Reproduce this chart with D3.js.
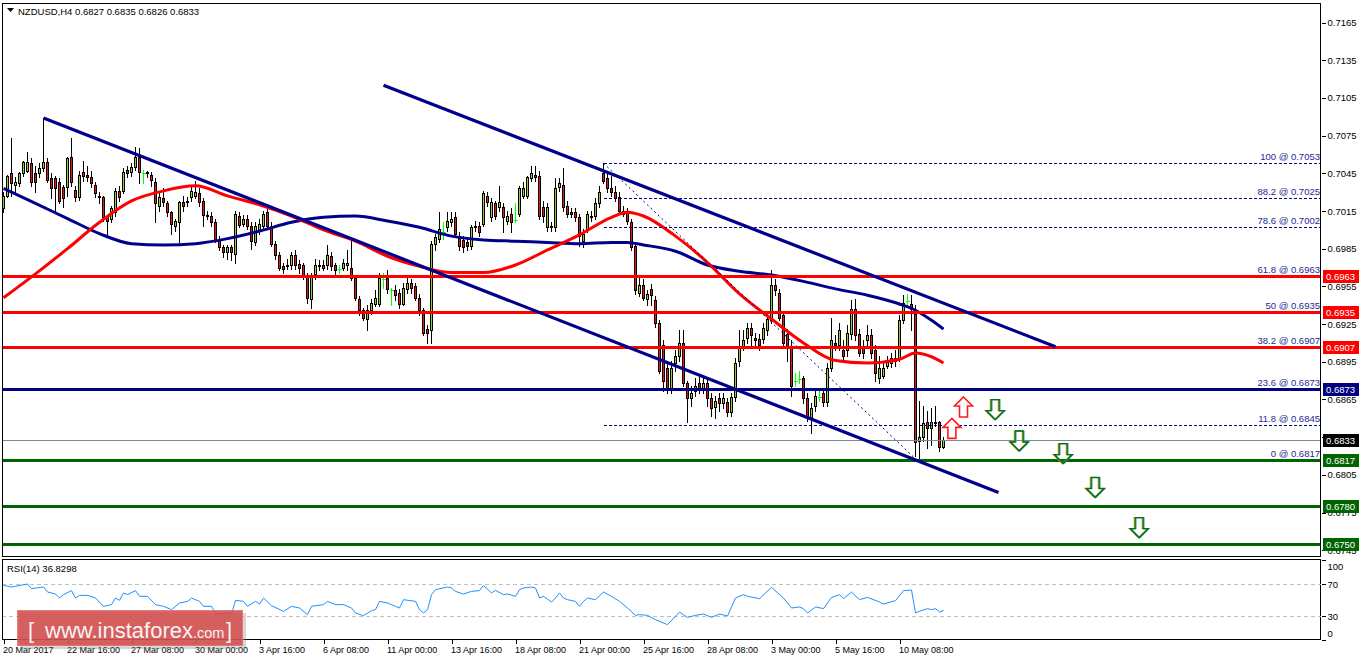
<!DOCTYPE html>
<html><head><meta charset="utf-8">
<script src="https://cdn.jsdelivr.net/npm/d3@7"></script>
<style>
html,body{margin:0;padding:0;background:#fff;}
svg{display:block;font-family:"Liberation Sans",Arial,sans-serif;}
</style></head><body>
<svg id="c" width="1362" height="661"></svg>
<script>
// ---------------- DATA ----------------
const symbol = "NZDUSD,H4";
const opens = [0.7017,0.7027,0.7045,0.7036,0.7037,0.7045,0.7047,0.7053,0.7045,0.7045,
0.7049,0.7054,0.7041,0.7041,0.7038,0.7034,0.7034,0.7058,0.7032,0.7026,
0.7046,0.7044,0.7042,0.7036,0.7027,0.7026,0.7010,0.7009,0.7014,0.7031,
0.7031,0.7048,0.7046,0.7050,0.7058,0.7045,0.7045,0.7044,0.7038,0.7019,
0.7025,0.7021,0.7014,0.7003,0.7006,0.7022,0.7022,0.7026,0.7027,0.7029,
0.7023,0.7012,0.7011,0.7006,0.6993,0.6986,0.6982,0.6986,0.6981,0.7011,
0.7005,0.7009,0.7003,0.6990,0.6999,0.7003,0.7014,0.7003,0.6989,0.6980,
0.6971,0.6971,0.6972,0.6980,0.6973,0.6972,0.6964,0.6945,0.6965,0.6971,
0.6972,0.6972,0.6979,0.6972,0.6969,0.6970,0.6972,0.6970,0.6962,0.6945,
0.6936,0.6929,0.6936,0.6941,0.6941,0.6961,0.6962,0.6952,0.6952,0.6950,
0.6941,0.6953,0.6958,0.6955,0.6946,0.6936,0.6921,0.6920,0.6989,0.6993,
0.6998,0.7002,0.7006,0.7010,0.6995,0.6992,0.6990,0.6987,0.7002,0.7003,
0.7005,0.7027,0.7010,0.7021,0.7018,0.7018,0.7007,0.7013,0.7008,0.7013,
0.7027,0.7027,0.7041,0.7044,0.7043,0.7018,0.7002,0.7003,0.7002,0.7034,
0.7036,0.7019,0.7014,0.7014,0.7010,0.6991,0.7001,0.7010,0.7011,0.7021,
0.7045,0.7041,0.7033,0.7030,0.7026,0.7013,0.7014,0.7006,0.6987,0.6950,
0.6956,0.6945,0.6953,0.6944,0.6926,0.6908,0.6890,0.6874,0.6894,0.6900,
0.6910,0.6878,0.6866,0.6872,0.6878,0.6874,0.6878,0.6866,0.6859,0.6866,
0.6862,0.6863,0.6855,0.6867,0.6896,0.6906,0.6914,0.6922,0.6914,0.6913,
0.6913,0.6920,0.6928,0.6956,0.6950,0.6932,0.6917,0.6906,0.6880,0.6881,
0.6882,0.6866,0.6851,0.6860,0.6867,0.6870,0.6863,0.6890,0.6910,0.6908,
0.6904,0.6904,0.6917,0.6937,0.6917,0.6906,0.6912,0.6916,0.6904,0.6882,
0.6884,0.6892,0.6894,0.6896,0.6898,0.6928,0.6943,0.6941,0.6933,0.6832,
0.6835,0.6847,0.6842,0.6847,0.6847,0.6827];
const highs = [0.7030,0.7044,0.7073,0.7042,0.7046,0.7055,0.7062,0.7057,0.7051,0.7053,
0.7089,0.7057,0.7045,0.7043,0.7041,0.7036,0.7058,0.7073,0.7035,0.7047,
0.7055,0.7051,0.7047,0.7038,0.7030,0.7027,0.7012,0.7019,0.7033,0.7035,
0.7049,0.7051,0.7053,0.7066,0.7065,0.7048,0.7047,0.7046,0.7041,0.7029,
0.7033,0.7023,0.7015,0.7009,0.7023,0.7027,0.7026,0.7035,0.7039,0.7033,
0.7025,0.7015,0.7014,0.7009,0.6995,0.6988,0.6988,0.6988,0.7015,0.7014,
0.7012,0.7012,0.7006,0.7006,0.7009,0.7015,0.7019,0.7006,0.6991,0.6982,
0.6974,0.6977,0.6982,0.6984,0.6976,0.6974,0.6966,0.6966,0.6977,0.6976,
0.6976,0.6988,0.6982,0.6974,0.6972,0.6977,0.6984,0.6991,0.6964,0.6947,
0.6938,0.6940,0.6945,0.6952,0.6966,0.6966,0.6968,0.6954,0.6956,0.6953,
0.6958,0.6962,0.6961,0.6958,0.6949,0.6938,0.6924,0.6991,0.6997,0.7014,
0.7006,0.7014,0.7014,0.7014,0.6998,0.6995,0.6993,0.7004,0.7007,0.7006,
0.7031,0.7030,0.7025,0.7023,0.7035,0.7021,0.7015,0.7017,0.7021,0.7035,
0.7038,0.7043,0.7051,0.7051,0.7047,0.7023,0.7021,0.7006,0.7041,0.7041,
0.7049,0.7023,0.7017,0.7017,0.7013,0.7001,0.7015,0.7015,0.7025,0.7035,
0.7053,0.7046,0.7043,0.7035,0.7030,0.7019,0.7017,0.7009,0.6989,0.6964,
0.6961,0.6952,0.6957,0.6947,0.6928,0.6912,0.6894,0.6896,0.6904,0.6920,
0.6920,0.6880,0.6876,0.6882,0.6884,0.6882,0.6882,0.6870,0.6868,0.6870,
0.6870,0.6866,0.6870,0.6898,0.6920,0.6920,0.6926,0.6926,0.6918,0.6917,
0.6926,0.6933,0.6968,0.6961,0.6953,0.6934,0.6921,0.6912,0.6886,0.6888,
0.6884,0.6870,0.6862,0.6872,0.6874,0.6874,0.6894,0.6930,0.6916,0.6926,
0.6912,0.6924,0.6944,0.6945,0.6921,0.6912,0.6924,0.6921,0.6908,0.6900,
0.6894,0.6900,0.6902,0.6904,0.6932,0.6948,0.6949,0.6948,0.6940,0.6864,
0.6860,0.6856,0.6858,0.6860,0.6848,0.6835];
const lows = [0.7014,0.7026,0.7027,0.7029,0.7035,0.7043,0.7046,0.7035,0.7030,0.7042,
0.7047,0.7038,0.7025,0.7015,0.7021,0.7018,0.7027,0.7035,0.7023,0.7024,
0.7039,0.7039,0.7034,0.7026,0.7021,0.7007,0.6994,0.7006,0.7011,0.7023,
0.7029,0.7042,0.7043,0.7048,0.7037,0.7037,0.7042,0.7035,0.7006,0.7015,
0.7019,0.7011,0.6997,0.6999,0.6990,0.7015,0.7019,0.7023,0.7025,0.7019,
0.7003,0.7009,0.7003,0.6990,0.6984,0.6978,0.6977,0.6976,0.6974,0.7002,
0.7003,0.7001,0.6985,0.6988,0.6997,0.7001,0.7001,0.6987,0.6977,0.6968,
0.6966,0.6969,0.6969,0.6969,0.6966,0.6961,0.6942,0.6938,0.6961,0.6968,
0.6968,0.6969,0.6968,0.6964,0.6966,0.6968,0.6968,0.6960,0.6944,0.6932,
0.6928,0.6920,0.6933,0.6939,0.6939,0.6954,0.6950,0.6940,0.6944,0.6938,
0.6940,0.6950,0.6950,0.6944,0.6932,0.6916,0.6910,0.6910,0.6984,0.6990,
0.6993,0.6999,0.7003,0.6995,0.6984,0.6982,0.6984,0.6985,0.6999,0.6995,
0.7003,0.7019,0.7007,0.7009,0.7015,0.6998,0.7005,0.6998,0.7006,0.7011,
0.7025,0.7025,0.7039,0.7039,0.7009,0.7006,0.6999,0.6999,0.6999,0.7031,
0.7015,0.7010,0.7010,0.7007,0.6987,0.6986,0.6998,0.7007,0.7009,0.7018,
0.7037,0.7030,0.7027,0.7023,0.7013,0.7011,0.7005,0.6984,0.6949,0.6947,
0.6944,0.6940,0.6940,0.6923,0.6886,0.6872,0.6870,0.6870,0.6888,0.6896,
0.6876,0.6847,0.6860,0.6868,0.6870,0.6870,0.6860,0.6852,0.6850,0.6856,
0.6858,0.6852,0.6852,0.6864,0.6892,0.6904,0.6910,0.6906,0.6908,0.6904,
0.6910,0.6916,0.6926,0.6948,0.6928,0.6906,0.6896,0.6868,0.6876,0.6878,
0.6862,0.6848,0.6838,0.6856,0.6864,0.6860,0.6860,0.6888,0.6904,0.6904,
0.6896,0.6900,0.6913,0.6912,0.6900,0.6898,0.6908,0.6898,0.6880,0.6878,
0.6882,0.6890,0.6891,0.6892,0.6896,0.6926,0.6940,0.6920,0.6820,0.6817,
0.6832,0.6826,0.6829,0.6844,0.6824,0.6826];
const closes = [0.7027,0.7043,0.7037,0.7038,0.7045,0.7054,0.7054,0.7038,0.7038,0.7049,
0.7054,0.7040,0.7033,0.7033,0.7023,0.7025,0.7057,0.7038,0.7026,0.7044,
0.7043,0.7042,0.7037,0.7029,0.7026,0.7010,0.7007,0.7017,0.7031,0.7026,
0.7046,0.7045,0.7050,0.7058,0.7046,0.7045,0.7046,0.7040,0.7021,0.7026,
0.7022,0.7014,0.7005,0.7007,0.7022,0.7019,0.7023,0.7031,0.7030,0.7022,
0.7012,0.7011,0.7006,0.6993,0.6986,0.6982,0.6986,0.6982,0.7013,0.7004,
0.7009,0.7003,0.6991,0.7003,0.7005,0.7013,0.7003,0.6989,0.6980,0.6970,
0.6969,0.6972,0.6980,0.6972,0.6970,0.6964,0.6946,0.6964,0.6972,0.6972,
0.6970,0.6980,0.6971,0.6968,0.6969,0.6974,0.6974,0.6962,0.6946,0.6936,
0.6930,0.6936,0.6942,0.6946,0.6962,0.6961,0.6953,0.6952,0.6948,0.6941,
0.6954,0.6958,0.6954,0.6946,0.6936,0.6918,0.6918,0.6989,0.6994,0.7001,
0.6998,0.7007,0.7009,0.6997,0.6987,0.6986,0.6987,0.7002,0.7003,0.6998,
0.7029,0.7022,0.7022,0.7011,0.7022,0.7010,0.7011,0.7006,0.7008,0.7033,
0.7033,0.7042,0.7045,0.7042,0.7011,0.7011,0.7018,0.7002,0.7033,0.7037,
0.7018,0.7013,0.7013,0.7010,0.6995,0.6997,0.7013,0.7011,0.7021,0.7030,
0.7039,0.7033,0.7030,0.7025,0.7015,0.7015,0.7007,0.6986,0.6952,0.6956,
0.6946,0.6949,0.6948,0.6926,0.6888,0.6880,0.6874,0.6890,0.6900,0.6910,
0.6878,0.6866,0.6870,0.6876,0.6874,0.6878,0.6866,0.6858,0.6864,0.6862,
0.6866,0.6855,0.6867,0.6894,0.6906,0.6912,0.6922,0.6916,0.6912,0.6908,
0.6922,0.6929,0.6956,0.6952,0.6930,0.6910,0.6906,0.6876,0.6880,0.6881,
0.6866,0.6851,0.6858,0.6868,0.6867,0.6863,0.6890,0.6912,0.6908,0.6920,
0.6900,0.6918,0.6937,0.6916,0.6902,0.6902,0.6916,0.6902,0.6886,0.6890,
0.6890,0.6896,0.6898,0.6898,0.6928,0.6942,0.6943,0.6937,0.6831,0.6835,
0.6846,0.6842,0.6847,0.6846,0.6827,0.6833];

// moving averages read at sampled bars
const maBars = [0,8,16,24,32,40,48,56,64,72,80,88,96,104,112,120,128,136,144,152,156,160,168,176,184,192,200,208,216,224,228,232,235];
const redMA = [0.6946,0.6965,0.6985,0.7006,0.7023,0.7031,0.7035,0.7027,0.7020,0.7011,0.7000,0.6991,0.6979,0.6971,0.6966,0.6966,0.6972,0.6984,0.6996,0.7010,0.7014,0.7011,0.6995,0.6974,0.6949,0.6929,0.6910,0.6896,0.6894,0.6897,0.6902,0.6899,0.6894];
const blueMA = [0.7033,0.7021,0.7009,0.6997,0.6989,0.6988,0.6989,0.6993,0.6999,0.7006,0.7010,0.7011,0.7007,0.7002,0.6995,0.6992,0.6991,0.6990,0.6989,0.6990,0.6990,0.6988,0.6983,0.6972,0.6967,0.6964,0.6959,0.6953,0.6948,0.6941,0.6936,0.6928,0.6921];

// RSI(14)
const rsiBars = [0,2,3,6,7,10,11,13,14,15,17,18,19,21,23,25,27,28,29,30,31,33,34,36,38,40,42,44,46,47,49,50,52,53,55,56,57,58,60,61,63,64,65,67,70,72,74,76,77,80,81,83,85,87,88,90,92,93,94,96,98,99,100,103,104,105,106,107,108,111,112,113,115,117,119,120,122,123,125,126,128,129,130,132,133,134,135,137,138,139,140,141,143,144,145,146,148,150,152,154,156,158,159,161,163,166,168,169,171,173,175,177,179,181,183,185,186,189,192,195,197,199,200,201,203,205,207,209,210,212,214,216,219,220,223,225,227,228,229,231,232,233,234,235];
const rsiValues = [68.3,66.3,67.1,70,64.2,66.3,60,57.5,52.5,56.7,61.7,52.5,55.8,55.8,52.5,42.1,44.2,52.5,49.6,58.7,56.7,61.7,54.6,54.6,44.2,42.1,37.9,46.2,48.3,52.5,48.3,42.1,42.1,33.8,31.7,35,32.5,49.6,48.3,42.1,48.3,45,52.5,42.9,35.8,42.1,40,31.7,42.1,44.2,48.3,44.2,44.2,40,33.8,30.4,36.7,37.9,48.3,46.2,42.1,40,50.4,48.3,37.9,33.8,37.9,56.7,62.9,66.3,65,60.8,57.5,60.8,61.7,68.3,58.8,62.1,56.7,57.5,54.6,62.9,65,66.3,65,52.5,54.6,47.5,52.5,58.8,52.5,50.4,48.3,42.1,48.3,52.5,50.4,60,54.6,48.3,40,30.8,31.7,30.8,25.4,19.2,29.6,35,28.3,30.8,32.5,28.3,32.5,30,52.5,56.7,54.6,51.7,65.8,52.5,40,41.3,39.2,33.8,41.3,39.2,53.3,56.7,51.7,60,50.4,53.3,47.5,45,49.2,61.7,62.5,33.8,36,39.2,37.9,39.2,35,36.8];
const rsiLast = "36.8298";
const rsiLevels = [70, 30];
const rsiTicks = [100, 70, 30, 0];

// axes
const priceTicks = [0.7165,0.7135,0.7105,0.7075,0.7045,0.7015,0.6985,0.6955,0.6925,0.6895,0.6865,0.6835,0.6805,0.6775,0.6745];
const hiddenPriceLabels = [0.6835];   // fully covered by the current-price box in the reference
const timeBars = [0,16,32,48,64,80,96,112,128,144,160,176,192,208,224];
const timeLabels = ["20 Mar 2017","22 Mar 16:00","27 Mar 08:00","30 Mar 00:00","3 Apr 16:00","6 Apr 08:00","11 Apr 00:00","13 Apr 16:00","18 Apr 08:00","21 Apr 00:00","25 Apr 16:00","28 Apr 08:00","3 May 00:00","5 May 16:00","10 May 08:00"];

// drawn objects
const lowerChannel = [[10, 0.7089], [248.75, 0.6791]];
const upperChannel = [[95, 0.7115], [263, 0.6907]];
const fibStart = [150, 0.7053];
const fibEnd = [228.25, 0.6817];
const fibLevels = ["100","88.2","78.6","61.8","50","38.2","23.6","11.8","0"];
const fibPrices = [0.7053,0.7025,0.7002,0.6963,0.6935,0.6907,0.6873,0.6845,0.6817];
const hLevels = [0.6963,0.6935,0.6907,0.6873,0.6817,0.6780,0.6750];
const currentPrice = 0.6833;
const upArrows = [[240, 0.6867],[237.1, 0.6850]];
const downArrows = [[247.9, 0.6849],[253.9, 0.6824],[264.9, 0.6814],[272.9, 0.6787],[283.9, 0.6755]];

// ---------------- STYLE / LAYOUT ----------------
const hColors = ["#ff0000","#ff0000","#ff0000","#000080","#006400","#006400","#006400"];
const BULL = "#9acd32", BEAR = "#e8141b", DOJI = "#00ff00";
const svg = d3.select("#c");
const N = opens.length;
const L = 2, R = 1321;
const x = d3.scaleLinear().domain([0, 1]).range([3.5, 7.5]);
const y = d3.scaleLinear().domain([0.6750, 0.7165]).range([544, 22.5]);
const yr = d3.scaleLinear().domain([0, 100]).range([640, 560]);
const snap = v => Math.round(v) + 0.5;

const defs = svg.append("defs");
defs.append("clipPath").attr("id","cm").append("rect").attr("x",3).attr("y",4).attr("width",R-3).attr("height",552);
defs.append("clipPath").attr("id","cr").append("rect").attr("x",3).attr("y",560).attr("width",R-3).attr("height",79);

const main = svg.append("g").attr("clip-path","url(#cm)");

// candles
const cg = main.append("g").attr("shape-rendering","crispEdges");
d3.range(N).forEach(i => {
  const cx = x(i), o = opens[i], c = closes[i];
  const doji = o === c;
  cg.append("line").attr("x1",cx).attr("x2",cx)
    .attr("y1",Math.round(y(highs[i]))).attr("y2",Math.round(y(lows[i]))+1)
    .attr("stroke", doji ? DOJI : "#000").attr("stroke-width",1);
  if (doji) {
    cg.append("line").attr("x1",cx-2).attr("x2",cx+2).attr("y1",snap(y(o))).attr("y2",snap(y(o)))
      .attr("stroke",DOJI);
  } else {
    const t = Math.round(y(Math.max(o,c))), b = Math.round(y(Math.min(o,c)));
    cg.append("rect").attr("x",cx-1).attr("y",t+0.5).attr("width",2).attr("height",Math.max(1,b-t))
      .attr("fill", c > o ? BULL : BEAR).attr("stroke","#000").attr("stroke-width",1);
  }
});

// moving averages
const maLine = d3.line().x(d => x(d[0])).y(d => y(d[1])).curve(d3.curveMonotoneX);
main.append("path").datum(d3.zip(maBars, blueMA)).attr("d", maLine)
  .attr("fill","none").attr("stroke","#00008b").attr("stroke-width",3);
main.append("path").datum(d3.zip(maBars, redMA)).attr("d", maLine)
  .attr("fill","none").attr("stroke","#ff0000").attr("stroke-width",3);

// current price line
main.append("line").attr("x1",L).attr("x2",R).attr("y1",snap(y(currentPrice))).attr("y2",snap(y(currentPrice)))
  .attr("stroke","#778899").attr("stroke-width",1).attr("shape-rendering","crispEdges");

// fibonacci dashed levels + diagonal
fibPrices.forEach(p => {
  main.append("line").attr("x1",x(fibStart[0])).attr("x2",R).attr("y1",snap(y(p))).attr("y2",snap(y(p)))
    .attr("stroke","#000080").attr("stroke-dasharray","3,2").attr("shape-rendering","crispEdges");
});
main.append("line").attr("x1",x(fibStart[0])).attr("y1",y(fibStart[1])).attr("x2",x(fibEnd[0])).attr("y2",y(fibEnd[1]))
  .attr("stroke","#000080").attr("stroke-dasharray","2,3").attr("stroke-width",1);

// horizontal support/resistance lines
hLevels.forEach((p,k) => {
  main.append("line").attr("x1",L).attr("x2",R).attr("y1",snap(y(p))).attr("y2",snap(y(p)))
    .attr("stroke",hColors[k]).attr("stroke-width",3).attr("shape-rendering","crispEdges");
});

// channel lines
[lowerChannel, upperChannel].forEach(ln => {
  main.append("line").attr("x1",x(ln[0][0])).attr("y1",y(ln[0][1])).attr("x2",x(ln[1][0])).attr("y2",y(ln[1][1]))
    .attr("stroke","#00008b").attr("stroke-width",3.2);
});

// fib labels
fibPrices.forEach((p,k) => {
  main.append("text").attr("x",R-1).attr("y",Math.round(y(p))-3).attr("text-anchor","end")
    .attr("font-size",9.5).attr("fill","#27278f").text(fibLevels[k] + " @ " + p.toFixed(4));
});

// arrows
function arrowPath(cx, tip, up) {
  const s = up ? 1 : -1;
  const pts = [[0,0],[9,9],[4,9],[4,20],[-4,20],[-4,9],[-9,9]].map(p => [cx + p[0], tip + s*p[1]]);
  return "M" + pts.map(p => p.join(",")).join("L") + "Z";
}
upArrows.forEach(a => {
  main.append("path").attr("d", arrowPath(x(a[0]), y(a[1]), true))
    .attr("fill","#fff").attr("stroke","#ff1a1a").attr("stroke-width",1.6);
});
downArrows.forEach(a => {
  main.append("path").attr("d", arrowPath(x(a[0]) - 0.8, y(a[1]), false))
    .attr("fill","none").attr("stroke","#e0b000").attr("stroke-width",1.2);
  main.append("path").attr("d", arrowPath(x(a[0]) + 0.8, y(a[1]), false))
    .attr("fill","none").attr("stroke","#20a0b0").attr("stroke-width",1.2);
  main.append("path").attr("d", arrowPath(x(a[0]), y(a[1]), false))
    .attr("fill","none").attr("stroke","#0a6a1a").attr("stroke-width",1.3);
});

// frames
svg.append("rect").attr("x",L+0.5).attr("y",3.5).attr("width",R-L-1).attr("height",553)
  .attr("fill","none").attr("stroke","#000").attr("shape-rendering","crispEdges");
svg.append("rect").attr("x",L+0.5).attr("y",559.5).attr("width",R-L-1).attr("height",80)
  .attr("fill","none").attr("stroke","#000").attr("shape-rendering","crispEdges");

// header
svg.append("path").attr("d","M7,8L14,8L10.5,12Z").attr("fill","#000");
const n = N - 1;
svg.append("text").attr("x",18).attr("y",14.5).attr("font-size",9.5).attr("fill","#000")
  .text(symbol + "  " + [opens[n],highs[n],lows[n],closes[n]].map(v => v.toFixed(4)).join(" "));

// price axis
const ya = svg.append("g").attr("transform","translate(" + (R+0.5) + ",0)")
  .call(d3.axisRight(y).tickValues(priceTicks)
    .tickFormat(d => hiddenPriceLabels.includes(d) ? "" : d3.format(".4f")(d)).tickSize(4).tickPadding(2));
ya.select(".domain").remove();
ya.attr("font-family",null).attr("font-size",null);
ya.selectAll("line").attr("stroke","#000").attr("shape-rendering","crispEdges");
ya.selectAll("text").attr("font-size",9.5).attr("fill","#000");

// right axis value boxes
const boxLevels = hLevels.concat([currentPrice]);
const boxColors = hColors.concat(["#000"]);
boxLevels.forEach((p,k) => {
  const cy = y(p);
  svg.append("rect").attr("x",R+2).attr("y",Math.round(cy)-6).attr("width",36).attr("height",13).attr("fill",boxColors[k]);
  svg.append("text").attr("x",R+5).attr("y",Math.round(cy)+4).attr("font-size",9.5).attr("fill","#fff").text(p.toFixed(4));
});

// RSI panel
const rg = svg.append("g").attr("clip-path","url(#cr)");
rsiLevels.forEach(v => {
  rg.append("line").attr("x1",L).attr("x2",R).attr("y1",snap(yr(v))).attr("y2",snap(yr(v)))
    .attr("stroke","#c0c0c0").attr("stroke-dasharray","4,3").attr("shape-rendering","crispEdges");
});
rg.append("path").datum(d3.zip(rsiBars, rsiValues))
  .attr("d", d3.line().x(d => x(d[0])).y(d => yr(d[1])))
  .attr("fill","none").attr("stroke","#1e90ff").attr("stroke-width",1);
svg.append("text").attr("x",7).attr("y",572).attr("font-size",9.5).attr("fill","#000").text("RSI(14) " + rsiLast);
const ra = svg.append("g").attr("transform","translate(" + (R+0.5) + ",0)")
  .call(d3.axisRight(yr).tickValues(rsiTicks).tickSize(4).tickPadding(2));
ra.select(".domain").remove();
ra.attr("font-family",null).attr("font-size",null);
ra.selectAll("line").attr("stroke","#000").attr("shape-rendering","crispEdges");
ra.selectAll("text").attr("font-size",9.5).attr("fill","#000")
  .attr("dy", d => d === 100 ? "1.0em" : (d === 0 ? "-0.4em" : "0.32em"));

// time axis
const xa = svg.append("g").attr("transform","translate(0,640)")
  .call(d3.axisBottom(x).tickValues(timeBars).tickFormat((d,k) => timeLabels[k]).tickSize(4).tickPadding(3));
xa.select(".domain").remove();
xa.attr("font-family",null).attr("font-size",null);
xa.selectAll("line").attr("stroke","#000").attr("shape-rendering","crispEdges");
xa.selectAll("text").attr("font-size",9).attr("fill","#000").attr("text-anchor","start").attr("x",-1);

// watermark
const wm = svg.append("g");
wm.append("rect").attr("x",20).attr("y",613).attr("width",226).attr("height",36).attr("fill","#888").attr("opacity",0.35);
wm.append("rect").attr("x",17).attr("y",610).attr("width",226).attr("height",36).attr("fill","rgb(214,78,78)").attr("opacity",0.88)
  .attr("stroke","rgba(255,255,255,0.35)").attr("stroke-width",1);
wm.append("text").attr("x",28).attr("y",638).attr("font-size",22).attr("fill","#fff").attr("opacity",0.92).text("[");
wm.append("text").attr("x",45).attr("y",638).attr("font-size",22).attr("fill","#fff").attr("opacity",0.92)
  .text("www.instaforex").append("tspan").attr("font-size",14.5).text(".com");
wm.append("text").attr("x",226).attr("y",638).attr("font-size",22).attr("fill","#fff").attr("opacity",0.92).text("]");
</script>
</body></html>
